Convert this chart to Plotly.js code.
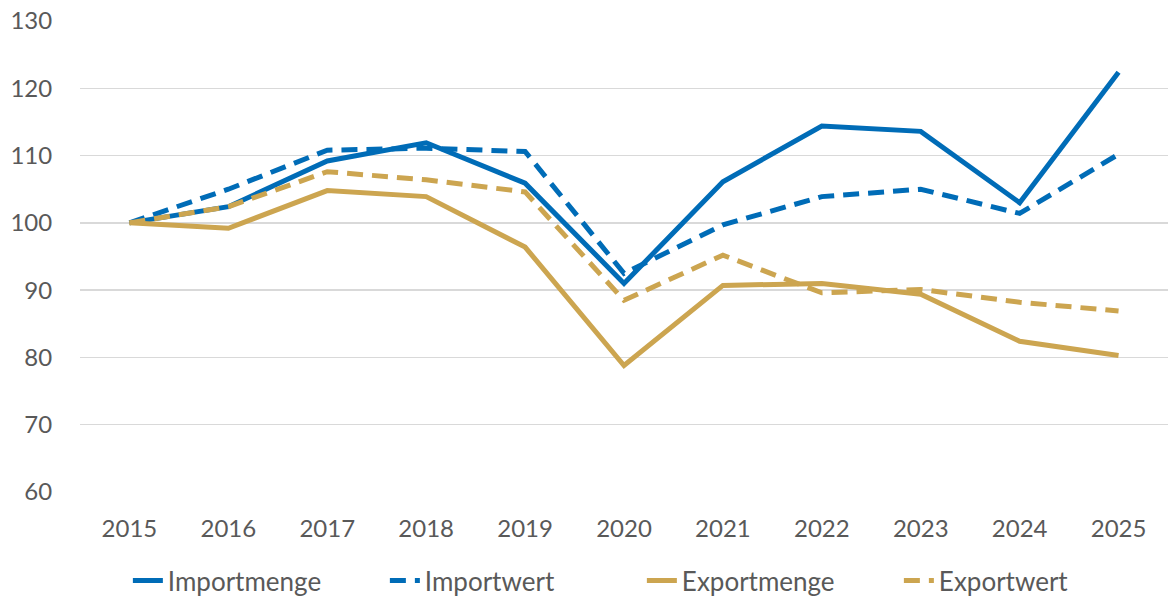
<!DOCTYPE html>
<html><head><meta charset="utf-8">
<script src="https://cdn.plot.ly/plotly-3.0.1.min.js"></script>
<style>html,body{margin:0;padding:0;background:#fff}#c{width:1168px;height:604px}</style>
</head><body><div id="c"></div>
<script>
const years = ['2015','2016','2017','2018','2019','2020','2021','2022','2023','2024','2025'];
const importmenge = [100, 102.4, 109.2, 111.9, 105.9, 91.0, 106.1, 114.4, 113.6, 103.0, 122.4];
const importwert  = [100, 105.0, 110.8, 111.1, 110.6, 92.5, 99.7, 103.9, 105.0, 101.4, 110.2];
const exportmenge = [100, 99.2, 104.8, 103.9, 96.4, 78.8, 90.7, 91.0, 89.4, 82.4, 80.3];
const exportwert  = [100, 102.4, 107.6, 106.4, 104.6, 88.5, 95.2, 89.6, 90.1, 88.2, 86.9];
const names = ['Importmenge','Importwert','Exportmenge','Exportwert'];
const blue = '#006CB7', gold = '#CCA550';
const fam = 'Lato, "Open Sans", sans-serif';
const tickFont = {family: fam, size: 24, color: '#595959'};
const legFont = {family: fam, size: 26, color: '#595959'};
function tr(y, name, color, dash){
  return {x: years, y: y, name: name, type: 'scatter', mode: 'lines',
    line: {color: color, width: 5, dash: dash}};
}
const data = [
  tr(importmenge, names[0], blue, 'solid'),
  tr(importwert, names[1], blue, '16px,9px'),
  tr(exportmenge, names[2], gold, 'solid'),
  tr(exportwert, names[3], gold, '16px,9px')
];
const layout = {
  width: 1168, height: 604,
  margin: {l: 80, r: 0, t: 21, b: 112},
  paper_bgcolor: '#fff', plot_bgcolor: '#fff',
  font: tickFont,
  showlegend: true,
  legend: {orientation: 'h', x: 0.044, xanchor: 'left', yref: 'container', y: 0, yanchor: 'bottom', font: legFont, entrywidth: 212, itemwidth: 30},
  xaxis: {type: 'category', range: [-0.5, 10.5], showgrid: false, zeroline: false, showline: false, ticks: 'outside', ticklen: 15, tickcolor: 'rgba(0,0,0,0)', tickfont: tickFont},
  yaxis: {range: [60, 130], dtick: 10, tick0: 60, showgrid: true, gridcolor: '#D9D9D9', gridwidth: 1.5, zeroline: false, showline: false, ticks: 'outside', ticklen: 22, tickcolor: 'rgba(0,0,0,0)', tickfont: tickFont}
};
Plotly.newPlot('c', data, layout, {displayModeBar: false, staticPlot: true});
</script></body></html>
